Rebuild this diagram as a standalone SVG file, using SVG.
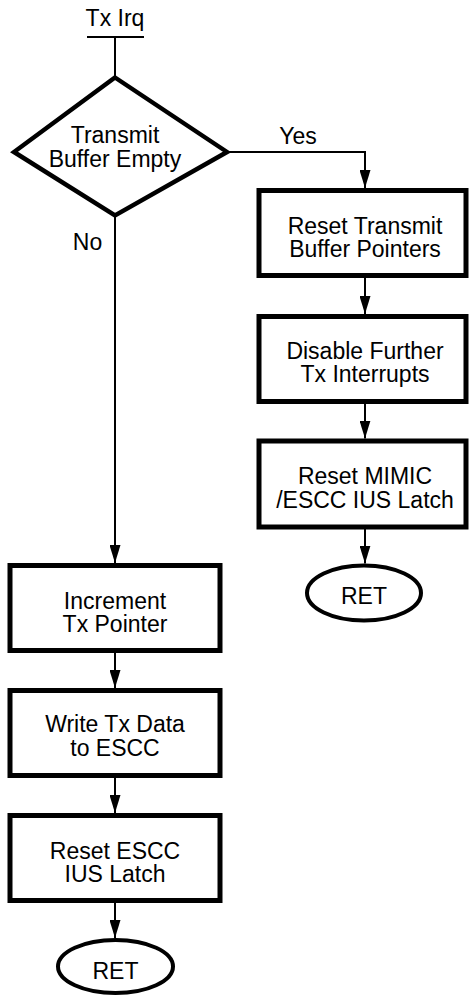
<svg xmlns="http://www.w3.org/2000/svg" width="469" height="996" viewBox="0 0 469 996">
  <style>
    .box { fill: #fff; stroke: #000; stroke-width: 5; }
    .dec { fill: #fff; stroke: #000; stroke-width: 4.5; }
    .term { fill: #fff; stroke: #000; stroke-width: 4; }
    .wire { fill: none; stroke: #000; stroke-width: 2; }
    .arr { marker-end: url(#head); }
    text { font-family: "Liberation Sans", Arial, sans-serif; font-size: 23px; fill: #000; text-anchor: middle; }
  </style>
  <defs>
    <marker id="head" markerUnits="userSpaceOnUse" markerWidth="18" markerHeight="11" refX="18" refY="5.5" orient="auto">
      <path d="M0,0 L18,5.5 L0,11 Z" fill="#000"/>
    </marker>
  </defs>

  <rect width="469" height="996" fill="#fff"/>

  <!-- connectors -->
  <g id="connectors">
    <line class="wire" x1="115" y1="37" x2="115" y2="77"/>
    <path class="wire arr" d="M229,152 H365 V188"/>
    <path class="wire arr" d="M115,216 V563"/>
    <line class="wire arr" x1="365" y1="278" x2="365" y2="314"/>
    <line class="wire arr" x1="365" y1="403" x2="365" y2="438.5"/>
    <line class="wire arr" x1="365" y1="529" x2="365" y2="563.5"/>
    <line class="wire arr" x1="115" y1="653" x2="115" y2="688"/>
    <line class="wire arr" x1="115" y1="777.5" x2="115" y2="813"/>
    <line class="wire arr" x1="115" y1="903" x2="115" y2="938"/>
    <text x="298" y="144">Yes</text>
    <text x="87.5" y="250">No</text>
  </g>

  <!-- entry point -->
  <g id="start">
    <text x="115" y="26">Tx Irq</text>
    <line class="wire" x1="87" y1="37" x2="144" y2="37"/>
  </g>

  <!-- decision -->
  <g id="buffer-empty">
    <polygon class="dec" points="115,77.5 227,152 115,215.5 14,152"/>
    <text x="115" y="143">Transmit</text>
    <text x="115" y="167">Buffer Empty</text>
  </g>

  <!-- "Yes" branch -->
  <g id="reset-pointers">
    <rect class="box" x="259" y="190.5" width="207" height="85"/>
    <text x="365" y="233.5">Reset Transmit</text>
    <text x="365" y="257">Buffer Pointers</text>
  </g>
  <g id="disable-tx">
    <rect class="box" x="259" y="316.5" width="207" height="85"/>
    <text x="365" y="358.5">Disable Further</text>
    <text x="365" y="382">Tx Interrupts</text>
  </g>
  <g id="reset-mimic">
    <rect class="box" x="259" y="441" width="207" height="86"/>
    <text x="365" y="484">Reset MIMIC</text>
    <text x="365" y="508">/ESCC IUS Latch</text>
  </g>
  <g id="ret-yes">
    <ellipse class="term" cx="364" cy="593" rx="57" ry="27.5"/>
    <text x="364" y="604">RET</text>
  </g>

  <!-- "No" branch -->
  <g id="increment">
    <rect class="box" x="10" y="565.5" width="210" height="85"/>
    <text x="115" y="608.5">Increment</text>
    <text x="115" y="632">Tx Pointer</text>
  </g>
  <g id="write-data">
    <rect class="box" x="10" y="690.5" width="210" height="85"/>
    <text x="115" y="732">Write Tx Data</text>
    <text x="115" y="755.5">to ESCC</text>
  </g>
  <g id="reset-escc">
    <rect class="box" x="10" y="815.5" width="210" height="85"/>
    <text x="115" y="858.5">Reset ESCC</text>
    <text x="115" y="882">IUS Latch</text>
  </g>
  <g id="ret-no">
    <ellipse class="term" cx="115.5" cy="966.5" rx="57.5" ry="26.5"/>
    <text x="115.5" y="978.5">RET</text>
  </g>
</svg>
